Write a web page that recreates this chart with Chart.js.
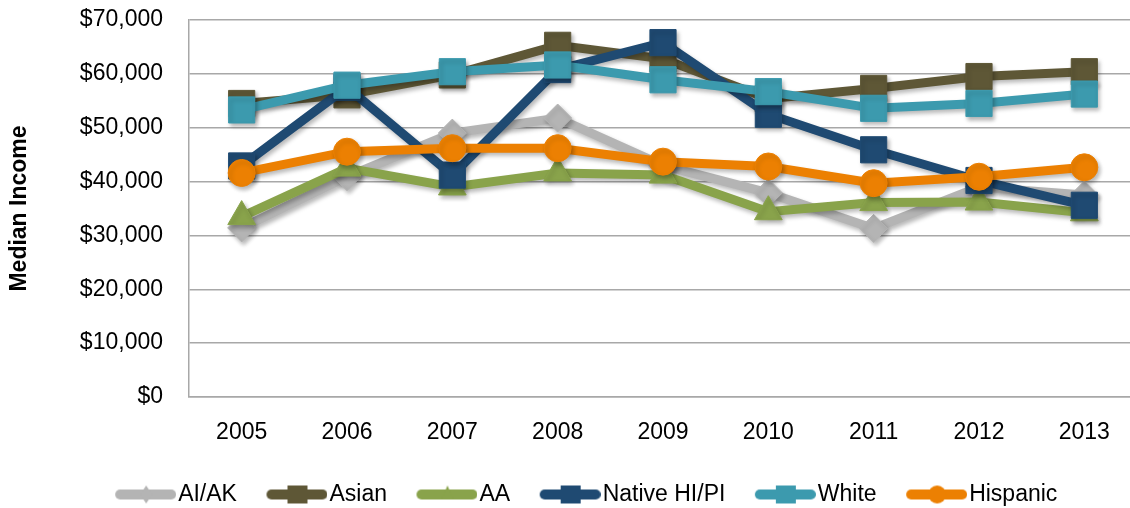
<!DOCTYPE html>
<html>
<head>
<meta charset="utf-8">
<script src="https://cdn.jsdelivr.net/npm/chart.js@4.4.1/dist/chart.umd.min.js"></script>
<style>
    html, body { margin: 0; padding: 0; background: #fff; overflow: hidden; }
    canvas { display: block; }
</style>
</head>
<body>
<!-- a bit wider than the window: the plot runs off the right edge like the original -->
<canvas id="myChart" width="1137" height="508"></canvas>
<script>
// data
const years = ['2005', '2006', '2007', '2008', '2009', '2010', '2011', '2012', '2013'];
const aiakIncome = [31400, 40900, 49000, 51800, 43000, 37900, 31300, 39000, 37500];
const asianIncome = [54500, 56100, 59800, 65300, 62800, 55400, 57300, 59500, 60400];
const aaIncome = [33500, 42500, 39000, 41600, 41200, 34400, 36100, 36200, 34200];
const nativeIncome = [42900, 57500, 41200, 60800, 65800, 52500, 45900, 40200, 35600];
const whiteIncome = [53300, 57900, 60400, 61650, 58900, 56700, 53600, 54500, 56250];
const hispanicIncome = [41600, 45550, 46200, 46200, 43700, 42800, 39700, 40900, 42650];
const yTickMax = 70000;
const yTickStep = 10000;

const FONT = "'Liberation Sans', Arial, sans-serif";
const GRID = '#a8a8a8';

const seriesStyle = [
    {label: 'AI/AK', data: aiakIncome, color: '#b4b4b4', point: 'rectRot', radius: 14},
    {label: 'Asian', data: asianIncome, color: '#5e5736', point: 'rect', radius: 18.5},
    {label: 'AA', data: aaIncome, color: '#89a34b', point: 'triangle', radius: 16},
    {label: 'Native HI/PI', data: nativeIncome, color: '#1f4a72', point: 'rect', radius: 18.5},
    {label: 'White', data: whiteIncome, color: '#3c9aae', point: 'rect', radius: 18.5},
    {label: 'Hispanic', data: hispanicIncome, color: '#ec8002', point: 'circle', radius: 13.5}
];

// legend symbol: line + small marker, drawn on its own canvas
function makeLegendIcon(s) {
    const c = document.createElement('canvas');
    c.width = 96;
    c.height = 24;
    const g = c.getContext('2d');
    g.strokeStyle = s.color;
    g.fillStyle = s.color;
    g.lineWidth = 10;
    g.lineCap = 'round';
    g.beginPath();
    g.moveTo(c.width - 56, 12);
    g.lineTo(c.width - 5, 12);
    g.stroke();
    const cx = c.width - 30;
    g.beginPath();
    if (s.point === 'rect') {
        g.rect(cx - 10, 3, 20, 18);
    } else if (s.point === 'circle') {
        g.arc(cx, 12, 9, 0, Math.PI * 2);
    } else if (s.point === 'triangle') {
        g.moveTo(cx, 3); g.lineTo(cx + 6, 17); g.lineTo(cx - 6, 17);
    } else {
        g.moveTo(cx, 3); g.lineTo(cx + 6, 12); g.lineTo(cx, 21); g.lineTo(cx - 6, 12);
    }
    g.fill();
    return c;
}
const legendIcons = seriesStyle.map(makeLegendIcon);

const datasets = seriesStyle.map((s, i) => ({
    label: s.label,
    data: s.data,
    borderColor: s.color,
    backgroundColor: s.color,
    borderWidth: 9,
    pointStyle: s.point,
    pointRadius: s.radius,
    pointBackgroundColor: s.color,
    pointBorderColor: s.color,
    pointBorderWidth: 1,
    tension: 0,
    order: seriesStyle.length - 1 - i, // later series on top like excel
    clip: false
}));

const shadowPlugin = {
    id: 'shadow',
    afterInit(chart) {
        const lg = chart.legend;
        const fit = lg.fit.bind(lg);
        lg.fit = function () { fit(); this.height = 29; };
    },
    afterLayout(chart) {
        // centre the legend row where the original has it
        const d = 573.5 - (chart.legend.left + chart.legend.right) / 2;
        chart.legend.left += d;
        chart.legend.right += d;
    },
    beforeDatasetsDraw(chart) {
        const c = chart.ctx;
        c.save();
        c.shadowColor = 'rgba(0,0,0,0.28)';
        c.shadowBlur = 4;
        c.shadowOffsetX = 2;
        c.shadowOffsetY = 3;
    },
    afterDatasetsDraw(chart) {
        chart.ctx.restore();
    }
};

const config = {
    type: 'line',
    data: {labels: years, datasets: datasets},
    options: {
        responsive: false,
        animation: false,
        devicePixelRatio: 1,
        layout: {autoPadding: false, padding: {left: 0, right: 0, top: 20, bottom: 0}},
        plugins: {
            tooltip: {enabled: false},
            legend: {
                position: 'bottom',
                labels: {
                    usePointStyle: true,
                    pointStyleWidth: 77,
                    padding: 4,
                    color: '#000',
                    font: {family: FONT, size: 23},
                    generateLabels: chart => chart.data.datasets.map((ds, i) => ({
                        text: ds.label,
                        pointStyle: legendIcons[i],
                        fillStyle: ds.borderColor,
                        strokeStyle: ds.borderColor,
                        lineWidth: 0,
                        hidden: false,
                        datasetIndex: i,
                        fontColor: '#000'
                    }))
                }
            }
        },
        scales: {
            x: {
                offset: true,
                grid: {display: true, color: 'rgba(0,0,0,0)', drawTicks: true, tickLength: 22, tickColor: 'rgba(0,0,0,0)'},
                border: {display: true, color: GRID, width: 1.5},
                ticks: {color: '#000', font: {family: FONT, size: 23}, padding: 0, maxRotation: 0},
                afterFit: scale => {
                    scale.height = 82;
                    scale.paddingLeft = 0;
                    scale.paddingRight = 0;
                }
            },
            y: {
                min: 0,
                max: yTickMax,
                grid: {color: GRID, lineWidth: 1.5, drawTicks: true, tickLength: 26, tickColor: 'rgba(0,0,0,0)'},
                border: {display: true, color: GRID, width: 1.5},
                ticks: {
                    stepSize: yTickStep,
                    color: '#000',
                    font: {family: FONT, size: 23},
                    padding: 0,
                    callback: v => '$' + v.toLocaleString('en-US')
                },
                title: {
                    display: true,
                    text: 'Median Income',
                    color: '#000',
                    font: {family: FONT, size: 23, weight: 'bold'},
                    padding: {top: 6, bottom: 0}
                },
                afterFit: scale => { scale.width = 189; }
            }
        }
    },
    plugins: [shadowPlugin]
};

const chart = new Chart(document.getElementById('myChart').getContext('2d'), config);
</script>
</body>
</html>
